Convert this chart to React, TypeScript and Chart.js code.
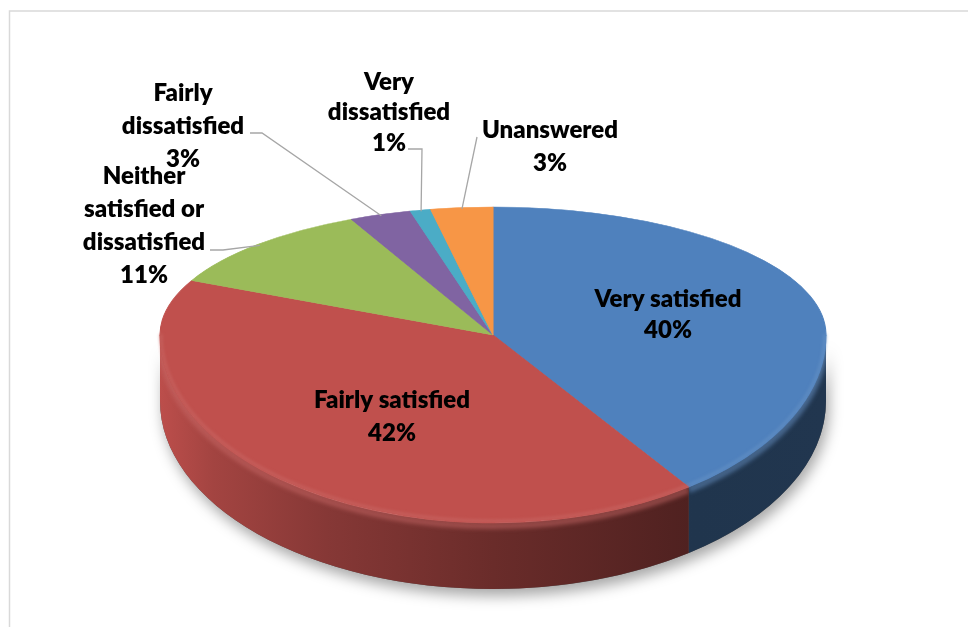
import React, { useEffect, useRef } from "react";
import { Chart, registerables } from "chart.js";

Chart.register(...registerables);

// ---- data ----
const categories = [
  "Very satisfied",
  "Fairly satisfied",
  "Neither satisfied or dissatisfied",
  "Fairly dissatisfied",
  "Very dissatisfied",
  "Unanswered",
];
const values = [40, 42, 11, 3, 1, 3];
const colors = ["#4F81BD", "#C0504D", "#9BBB59", "#8064A2", "#4BACC6", "#F79646"];

// ---- layout (3D projection + label placement) ----
const PX = 493; // vertex x
const PY = 335; // vertex y
const RX = 333;
const RY_BACK = 128;
const RY_FRONT = 188;
const DEPTH = 66;
const FONT_SIZE = 24;
const FONT_WEIGHT = 800;

type LabelLayout = { x: number; y: number; wrap: number; gap: number; leader?: number[][] };
const LABEL_LAYOUT: LabelLayout[] = [
  { x: 668, y: 299, wrap: 400, gap: 31 },
  { x: 392, y: 400, wrap: 400, gap: 33 },
  { x: 144, y: 176, wrap: 150, gap: 33, leader: [[210, 250], [223, 250]] },
  { x: 183, y: 93, wrap: 150, gap: 33, leader: [[250, 133], [262, 133]] },
  { x: 389, y: 82, wrap: 150, gap: 30.5, leader: [[408, 149], [422, 149]] },
  { x: 550, y: 130, wrap: 220, gap: 33, leader: [[477, 137]] },
];

function rgbOf(hex: string) {
  const n = parseInt(hex.slice(1), 16);
  return [(n >> 16) & 255, (n >> 8) & 255, n & 255];
}
function shade(hex: string, f: number, a = 1) {
  const [r, g, b] = rgbOf(hex);
  return `rgba(${Math.round(r * f)},${Math.round(g * f)},${Math.round(b * f)},${a})`;
}
function lighten(hex: string, t: number, a = 1) {
  const [r, g, b] = rgbOf(hex);
  const m = (c: number) => Math.round(c + (255 - c) * t);
  return `rgba(${m(r)},${m(g)},${m(b)},${a})`;
}

function proj(angle: number, k = 1) {
  const u = Math.cos(angle);
  const v = Math.sin(angle);
  return { x: PX + RX * u * k, y: PY + (v < 0 ? RY_BACK : RY_FRONT) * v * k };
}

function wrapText(ctx: CanvasRenderingContext2D, text: string, maxW: number) {
  const words = text.split(" ");
  const lines: string[] = [];
  let cur = "";
  for (const w of words) {
    const test = cur ? cur + " " + w : w;
    if (cur && ctx.measureText(test).width > maxW) {
      lines.push(cur);
      cur = w;
    } else cur = test;
  }
  if (cur) lines.push(cur);
  return lines;
}

const pie3dPlugin = {
  id: "pie3d",
  beforeDraw(chart: any) {
    const ctx: CanvasRenderingContext2D = chart.ctx;
    ctx.save();
    ctx.strokeStyle = "#d9d9d9";
    ctx.lineWidth = 1.5;
    ctx.strokeRect(9.5, 11, chart.width + 20, chart.height + 20);
    ctx.restore();
  },
  beforeDatasetsDraw(chart: any) {
    const ctx: CanvasRenderingContext2D = chart.ctx;
    const arcs = chart.getDatasetMeta(0).data;
    if (!arcs.length) return;
    const p0 = arcs[0].getProps(["x", "y", "outerRadius"], true);
    const cx0 = p0.x, cy0 = p0.y, R = p0.outerRadius;

    // soft shadow under the disc
    ctx.save();
    ctx.beginPath();
    ctx.ellipse(PX, PY, RX, RY_FRONT, 0, 0, Math.PI, false);
    ctx.ellipse(PX, PY + DEPTH, RX, RY_FRONT, 0, Math.PI, 0, true);
    ctx.closePath();
    ctx.shadowColor = "rgba(0,0,0,0.35)";
    ctx.shadowBlur = 14;
    ctx.shadowOffsetX = 3;
    ctx.shadowOffsetY = 7;
    ctx.fillStyle = "#555";
    ctx.fill();
    ctx.restore();

    // side walls
    arcs.forEach((arc: any, i: number) => {
      const { startAngle, endAngle } = arc.getProps(["startAngle", "endAngle"], true);
      const a1 = Math.max(startAngle, 0);
      const a2 = Math.min(endAngle, Math.PI);
      if (a2 <= a1) return;
      const col = colors[i];
      ctx.save();
      ctx.beginPath();
      ctx.ellipse(PX, PY, RX, RY_FRONT, 0, a1, a2, false);
      ctx.ellipse(PX, PY + DEPTH, RX, RY_FRONT, 0, a2, a1, true);
      ctx.closePath();
      const g = ctx.createLinearGradient(PX - RX, 0, PX + RX, 0);
      g.addColorStop(0, shade(col, 0.98));
      g.addColorStop(0.08, shade(col, 0.85));
      g.addColorStop(0.25, shade(col, 0.7));
      g.addColorStop(0.5, shade(col, 0.55));
      g.addColorStop(0.8, shade(col, 0.41));
      g.addColorStop(1, shade(col, 0.42));
      ctx.fillStyle = g;
      ctx.fill();
      ctx.clip();
      // bevel highlight along the upper rim of the wall
      ctx.filter = "blur(2px)";
      ctx.beginPath();
      ctx.ellipse(PX, PY + 3, RX, RY_FRONT, 0, a1, a2, false);
      ctx.lineWidth = 6;
      ctx.strokeStyle = lighten(col, 0.15, 0.55);
      ctx.stroke();
      ctx.restore();
    });

    // top face: the library's own arc elements, drawn through two projections
    const drawHalf = (ry: number, back: boolean) => {
      ctx.save();
      ctx.beginPath();
      if (back) ctx.rect(0, 0, chart.width, PY + 0.5);
      else ctx.rect(0, PY, chart.width, chart.height - PY);
      ctx.clip();
      ctx.translate(PX, PY);
      ctx.scale(RX / R, ry / R);
      ctx.translate(-cx0, -cy0);
      arcs.forEach((a: any) => a.draw(ctx));
      ctx.restore();
    };
    drawHalf(RY_BACK, true);
    drawHalf(RY_FRONT, false);

    // light rim at the front edge of the top face
    arcs.forEach((arc: any, i: number) => {
      const { startAngle, endAngle } = arc.getProps(["startAngle", "endAngle"], true);
      const a1 = Math.max(startAngle, 0);
      const a2 = Math.min(endAngle, Math.PI);
      if (a2 <= a1) return;
      ctx.save();
      ctx.filter = "blur(1.5px)";
      ctx.beginPath();
      ctx.ellipse(PX, PY - 1, RX - 1, RY_FRONT - 1, 0, a1, a2, false);
      ctx.lineWidth = 3;
      ctx.strokeStyle = lighten(colors[i], 0.12, 0.7);
      ctx.stroke();
      ctx.restore();
    });
    return false;
  },
  afterDraw(chart: any) {
    const ctx: CanvasRenderingContext2D = chart.ctx;
    const arcs = chart.getDatasetMeta(0).data;
    const total = values.reduce((a, b) => a + b, 0);
    ctx.save();
    ctx.font = `${FONT_WEIGHT} ${FONT_SIZE}px Lato, "Open Sans", sans-serif`;
    ctx.textAlign = "center";
    ctx.textBaseline = "middle";
    arcs.forEach((arc: any, i: number) => {
      const L = LABEL_LAYOUT[i];
      const { startAngle, endAngle } = arc.getProps(["startAngle", "endAngle"], true);
      if (L.leader) {
        const mid = (startAngle + endAngle) / 2;
        const p = proj(mid, 0.99);
        ctx.beginPath();
        ctx.moveTo(L.leader[0][0], L.leader[0][1]);
        for (let k = 1; k < L.leader.length; k++) ctx.lineTo(L.leader[k][0], L.leader[k][1]);
        ctx.lineTo(p.x, p.y);
        ctx.strokeStyle = "#a6a6a6";
        ctx.lineWidth = 1.3;
        ctx.stroke();
      }
      const pct = Math.round((values[i] / total) * 100) + "%";
      const lines = wrapText(ctx, categories[i], L.wrap).concat([pct]);
      ctx.fillStyle = "#000";
      lines.forEach((s, k) => ctx.fillText(s, L.x, L.y + k * L.gap));
    });
    ctx.restore();
  },
};

export default function App() {
  const ref = useRef<HTMLCanvasElement | null>(null);
  useEffect(() => {
    if (!ref.current) return;
    const chart = new Chart(ref.current, {
      type: "pie",
      data: {
        labels: categories,
        datasets: [
          {
            data: values,
            backgroundColor: colors,
            borderColor: colors,
            borderWidth: 1,
          },
        ],
      },
      options: {
        responsive: false,
        maintainAspectRatio: false,
        animation: false,
        events: [],
        layout: { padding: 0 },
        plugins: {
          legend: { display: false },
          tooltip: { enabled: false },
        },
      },
      plugins: [pie3dPlugin as any],
    });
    return () => chart.destroy();
  }, []);
  return (
    <div style={{ position: "fixed", left: 0, top: 0, width: 968, height: 627, background: "#fff" }}>
      <canvas ref={ref} width={968} height={627} style={{ display: "block" }} />
    </div>
  );
}
